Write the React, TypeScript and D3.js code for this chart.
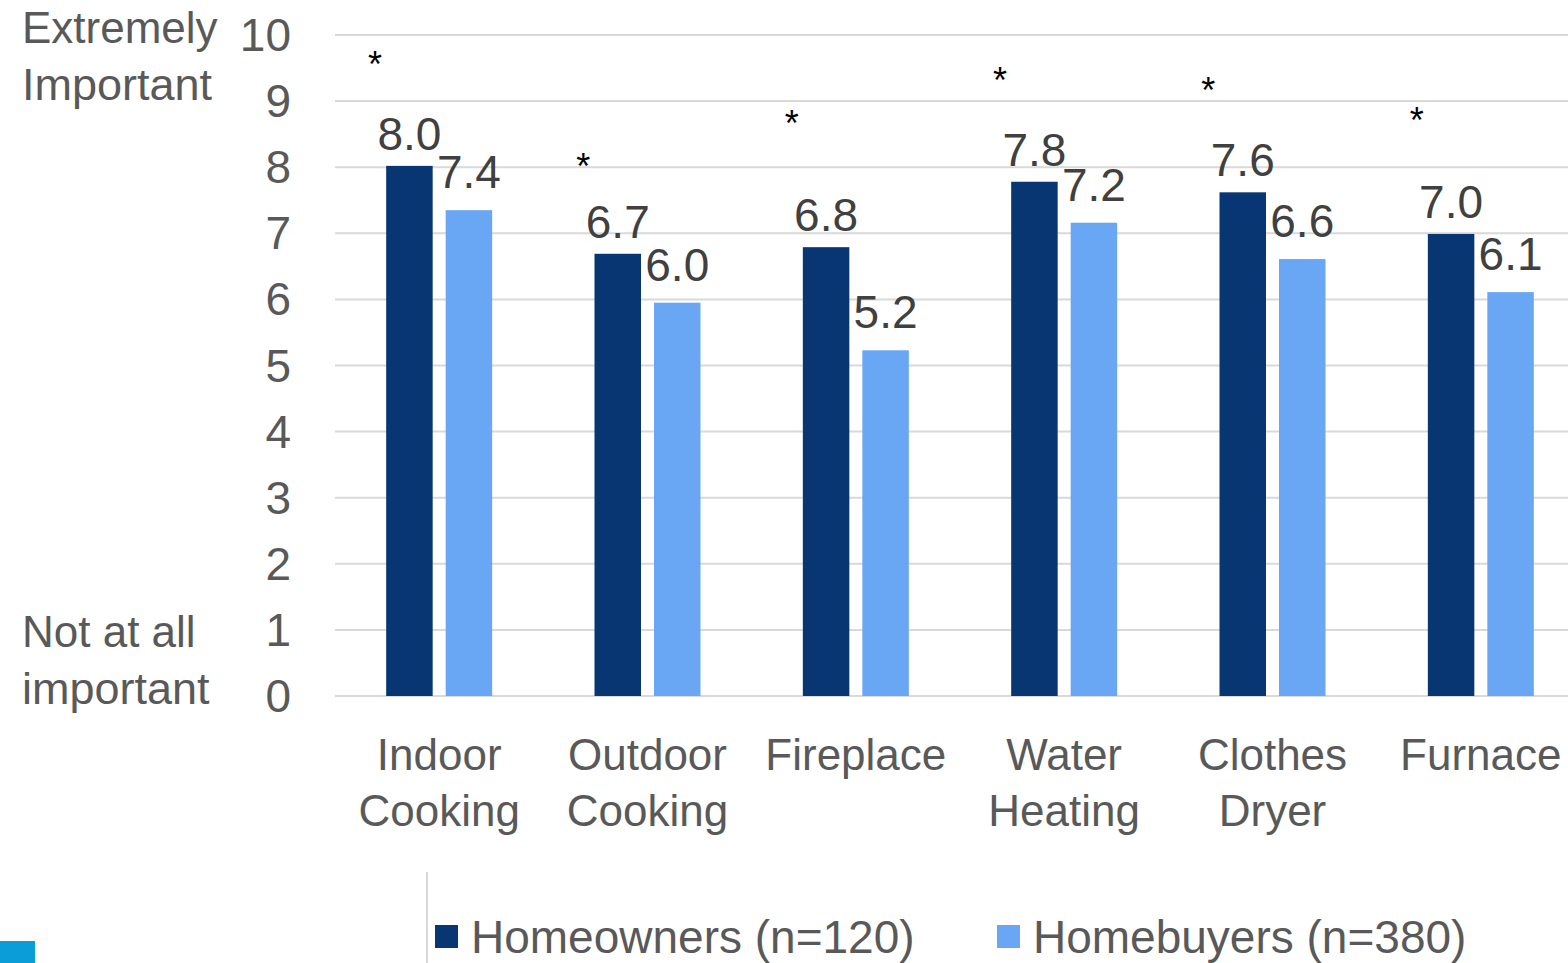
import React from "react";
import * as d3 from "d3";

const categories: string[][] = [
  ["Indoor", "Cooking"],
  ["Outdoor", "Cooking"],
  ["Fireplace"],
  ["Water", "Heating"],
  ["Clothes", "Dryer"],
  ["Furnace"],
];
const homeowners = [8.0, 6.7, 6.8, 7.8, 7.6, 7.0];
const homebuyers = [7.4, 6.0, 5.2, 7.2, 6.6, 6.1];
// bar heights as drawn (labels are rounded values)
const homeownersBar = [8.02, 6.69, 6.79, 7.78, 7.62, 6.99];
const homebuyersBar = [7.35, 5.95, 5.23, 7.16, 6.61, 6.11];
const asteriskLevels = [9.58, 8.03, 8.68, 9.33, 9.18, 8.73];
const yTicks = [0, 1, 2, 3, 4, 5, 6, 7, 8, 9, 10];
const seriesNames = ["Homeowners (n=120)", "Homebuyers (n=380)"];

const W = 1568;
const H = 963;
const DARK = "#083672";
const LIGHT = "#69A7F5";
const GRID = "#D9D9D9";
const TEXT = "#595959";
const FONT = "'Liberation Sans', Arial, sans-serif";

export default function App() {
  const x = d3
    .scaleBand<number>()
    .domain(d3.range(categories.length))
    .range([335, 1585])
    .paddingInner(0)
    .paddingOuter(0);
  const y = d3.scaleLinear().domain([0, 10]).range([696, 35]);
  const bw = x.bandwidth();
  const barW = 46.5;
  const gap = 13;
  const groupW = barW * 2 + gap;
  const fmt = d3.format(".1f");

  return (
    <svg
      width={W}
      height={H}
      style={{ position: "absolute", left: 0, top: 0, background: "#fff" }}
      fontFamily={FONT}
    >
      {yTicks.map((t) => (
        <line key={"g" + t} x1={335} x2={W} y1={y(t)} y2={y(t)} stroke={GRID} strokeWidth={2} />
      ))}
      {yTicks.map((t) => (
        <text key={"t" + t} x={291} y={y(t) + 16} textAnchor="end" fontSize={46} fill={TEXT}>
          {t}
        </text>
      ))}
      <text x={22} y={y(10) + 8} fontSize={44} fill={TEXT}>Extremely</text>
      <text x={22} y={y(10) + 65} fontSize={45} fill={TEXT}>Important</text>
      <text x={22} y={y(0) - 49} fontSize={44} fill={TEXT}>Not at all</text>
      <text x={22} y={y(0) + 8} fontSize={45} fill={TEXT}>important</text>

      {categories.map((cat, i) => {
        const x0 = (x(i) as number) + (bw - groupW) / 2;
        const x1 = x0 + barW + gap;
        const cx = (x(i) as number) + bw / 2;
        return (
          <g key={i}>
            <rect x={x0} y={y(homeownersBar[i])} width={barW} height={y(0) - y(homeownersBar[i])} fill={DARK} />
            <rect x={x1} y={y(homebuyersBar[i])} width={barW} height={y(0) - y(homebuyersBar[i])} fill={LIGHT} />
            <text x={x0 + barW / 2} y={y(homeownersBar[i]) - 16} textAnchor="middle" fontSize={46} fill="#404040">
              {fmt(homeowners[i])}
            </text>
            <text x={x1 + barW / 2} y={y(homebuyersBar[i]) - 22} textAnchor="middle" fontSize={46} fill="#404040">
              {fmt(homebuyers[i])}
            </text>
            <text x={(x(i) as number) + 40} y={y(asteriskLevels[i]) + 14} textAnchor="middle" fontSize={36} fill="#000">
              *
            </text>
            {cat.map((line, k) => (
              <text key={k} x={cx} y={770 + k * 56} textAnchor="middle" fontSize={44} fill={TEXT}>
                {line}
              </text>
            ))}
          </g>
        );
      })}

      <line x1={427} x2={427} y1={872} y2={H} stroke={GRID} strokeWidth={2} />
      {seriesNames.map((name, i) => {
        const lx = i === 0 ? 435 : 997;
        return (
          <g key={name}>
            <rect x={lx} y={925} width={23} height={23} fill={i === 0 ? DARK : LIGHT} />
            <text x={lx + 36} y={953} fontSize={46} fill={TEXT}>
              {name}
            </text>
          </g>
        );
      })}
      <rect x={0} y={941} width={35} height={22} fill="#0B9DD8" />
    </svg>
  );
}
